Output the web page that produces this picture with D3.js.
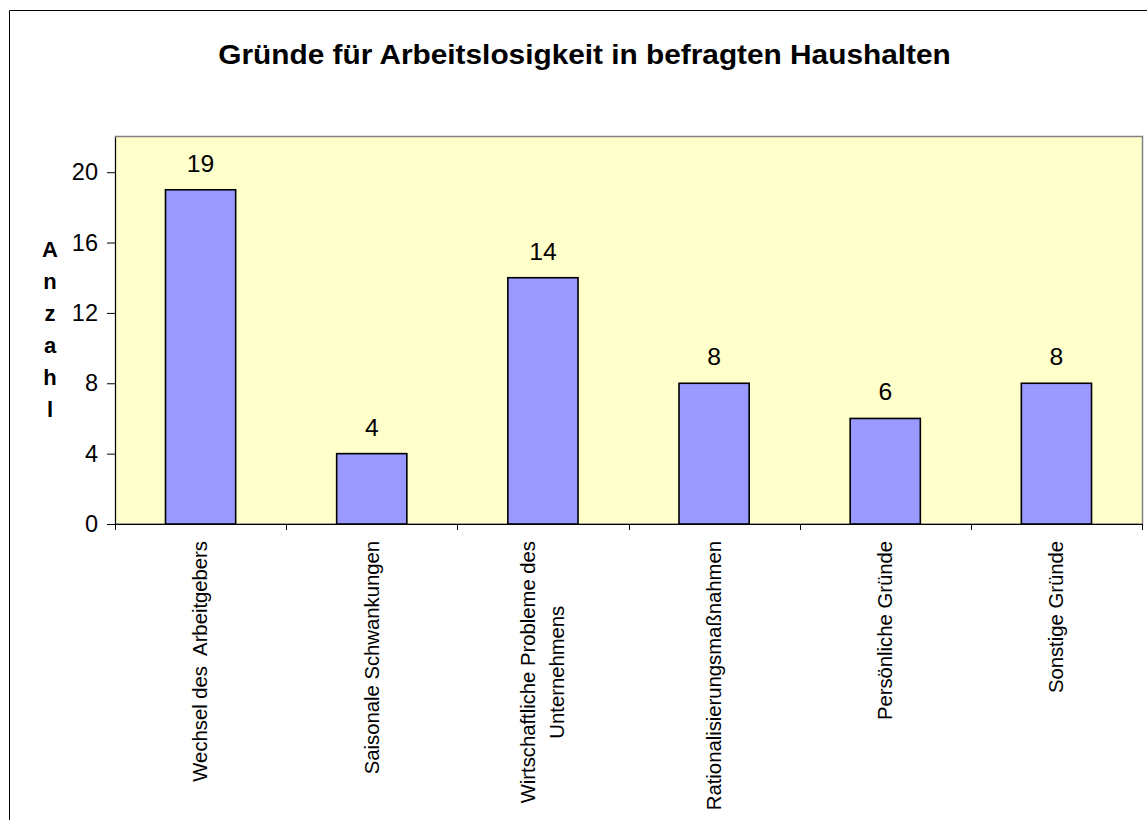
<!DOCTYPE html>
<html>
<head>
<meta charset="utf-8">
<script src="https://cdn.jsdelivr.net/npm/d3@7/dist/d3.min.js"></script>
<style>
  html, body { margin: 0; padding: 0; background: #fff; overflow: hidden; }
  svg { display: block; }
  text { font-family: "Liberation Sans", Arial, sans-serif; fill: #000; }
</style>
</head>
<body>
<svg id="chart" width="1147" height="820"></svg>
<script>
const title = "Gründe für Arbeitslosigkeit in befragten Haushalten";
const yAxisTitle = "Anzahl";
const categories = [
  ["Wechsel des  Arbeitgebers"],
  ["Saisonale Schwankungen"],
  ["Wirtschaftliche Probleme des", "Unternehmens"],
  ["Rationalisierungsmaßnahmen"],
  ["Persönliche Gründe"],
  ["Sonstige Gründe"]
];
const values = [19, 4, 14, 8, 6, 8];
const yTicks = [0, 4, 8, 12, 16, 20];
const yMax = 22;

const svg = d3.select("#chart");
const W = 1147, H = 820;
const plot = { left: 115, right: 1142, top: 137, bottom: 524 };

// outer chart border: only left and top edges are inside the picture
svg.append("path")
  .attr("d", `M9.5,${H + 5}V10.5H${W + 5}`)
  .attr("fill", "none").attr("stroke", "#000").attr("stroke-width", 1);

// title
svg.append("text")
  .attr("transform", `translate(584.5,64) scale(1.065,1)`)
  .attr("text-anchor", "middle")
  .attr("font-size", 28).attr("font-weight", "bold")
  .text(title);

const x = d3.scaleBand()
  .domain(d3.range(categories.length))
  .range([plot.left, plot.right])
  .paddingInner(0.59).paddingOuter(0.295);
const y = d3.scaleLinear().domain([0, yMax]).range([plot.bottom, plot.top]);

// plot area
svg.append("rect")
  .attr("x", plot.left + 0.5).attr("y", y(yMax) - 0.5)
  .attr("width", plot.right - plot.left).attr("height", plot.bottom - y(yMax) + 0.5)
  .attr("fill", "#FFFFCC").attr("stroke", "#808080").attr("stroke-width", 1.5);

// bars
svg.selectAll("rect.bar").data(values).enter().append("rect")
  .attr("class", "bar")
  .attr("x", (d, i) => x(i))
  .attr("y", d => y(d))
  .attr("width", x.bandwidth())
  .attr("height", d => y(0) - y(d))
  .attr("fill", "#9999FF").attr("stroke", "#000").attr("stroke-width", 1.6);

// value labels
svg.selectAll("text.val").data(values).enter().append("text")
  .attr("class", "val")
  .attr("transform", (d, i) => `translate(${x(i) + x.bandwidth() / 2},${y(d) - 18}) scale(1.05,1)`)
  .attr("text-anchor", "middle")
  .attr("font-size", 23.5)
  .text(d => d);

// y axis
const yAxis = d3.axisLeft(y).tickValues(yTicks).tickSize(8).tickPadding(9).tickSizeOuter(0);
const gy = svg.append("g").attr("transform", `translate(${plot.left},0)`).call(yAxis);
gy.select(".domain").attr("stroke", "#000");
gy.selectAll(".tick line").attr("stroke", "#000");
gy.selectAll(".tick text").attr("font-size", 23.5).attr("font-family", "Liberation Sans, Arial, sans-serif").attr("fill", "#000");

// x axis baseline and ticks at band boundaries
svg.append("line")
  .attr("x1", plot.left - 8).attr("x2", plot.right)
  .attr("y1", plot.bottom + 0.5).attr("y2", plot.bottom + 0.5)
  .attr("stroke", "#000").attr("stroke-width", 1);
const bounds = d3.range(categories.length + 1).map(i => plot.left + i * x.step());
svg.selectAll("line.xt").data(bounds).enter().append("line")
  .attr("class", "xt")
  .attr("x1", d => Math.round(d) + 0.5).attr("x2", d => Math.round(d) + 0.5)
  .attr("y1", plot.bottom).attr("y2", plot.bottom + 6)
  .attr("stroke", "#000");

// category labels (rotated)
const lineH = 29, sx = 1.04;
categories.forEach((lines, i) => {
  const cx = x(i) + x.bandwidth() / 2;
  const g = svg.append("g").attr("transform", `translate(${cx},541) rotate(-90) scale(${sx},1)`);
  const texts = lines.map((t, j) => g.append("text")
    .attr("font-size", 19.5)
    .attr("dominant-baseline", "central")
    .attr("text-anchor", "middle")
    .attr("y", (j - (lines.length - 1) / 2) * lineH)
    .attr("xml:space", "preserve")
    .style("white-space", "pre")
    .text(t));
  const maxLen = d3.max(texts, t => t.node().getComputedTextLength());
  texts.forEach(t => t.attr("x", -maxLen / 2));
});

// y axis title, stacked letters
svg.selectAll("text.yt").data(yAxisTitle.split("")).enter().append("text")
  .attr("class", "yt")
  .attr("x", 50).attr("y", (d, i) => 257 + i * 32)
  .attr("text-anchor", "middle")
  .attr("font-size", 22).attr("font-weight", "bold")
  .text(d => d);
</script>
</body>
</html>
